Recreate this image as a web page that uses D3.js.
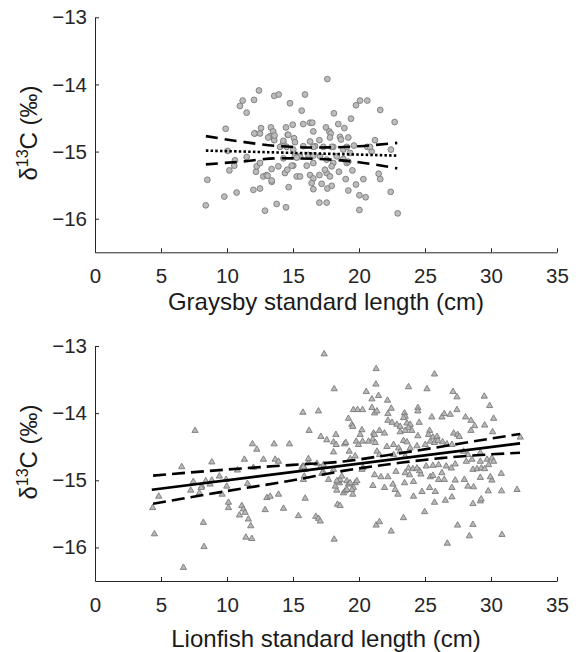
<!DOCTYPE html>
<html>
<head>
<meta charset="utf-8">
<script src="https://cdn.jsdelivr.net/npm/d3@7/dist/d3.min.js"></script>
<style>
  body { margin: 0; background: #fff; }
  svg { display: block; font-family: "Liberation Sans", Arial, Helvetica, sans-serif; }
  .tick text { font-size: 20.5px; fill: #262626; }
  .axis path, .axis line { stroke: #262626; stroke-width: 1; }
</style>
</head>
<body>
<div id="chart"></div>
<script>
// ---- data ----
var xTicks = [0, 5, 10, 15, 20, 25, 30, 35];
var yTicks = [-13, -14, -15, -16];

// Graysby: standard length (cm) and d13C
var graysbyLength = [8.39,8.51,9.90,9.80,10.05,10.18,10.55,10.61,10.73,10.98,11.19,11.49,11.49,12.05,12.00,12.12,12.42,12.50,12.50,12.58,
  12.20,12.25,12.50,12.75,12.88,13.00,13.26,13.33,13.39,13.50,13.56,13.58,13.58,13.76,13.92,13.89,14.27,14.47,14.47,14.60,
  14.67,14.77,14.98,14.39,14.57,15.08,15.15,15.02,15.28,15.91,15.66,15.78,16.29,16.46,17.60,18.10,18.43,18.89,19.39,19.77,
  20.08,20.63,21.61,22.70,17.50,17.75,17.86,17.80,16.54,17.00,18.56,18.64,19.19,21.21,20.63,19.62,22.42,20.96,15.53,16.16,
  16.67,17.30,18.05,18.81,19.32,15.53,16.29,16.54,17.00,17.55,17.80,14.90,14.27,15.02,15.15,17.05,17.55,18.05,18.31,19.07,
  16.41,16.54,17.17,17.60,17.93,17.00,17.55,18.48,18.99,19.19,19.50,19.77,20.03,20.03,20.33,20.50,21.49,21.61,22.40,22.93,
  13.38,13.08,13.38,12.07,13.12,13.60,14.64,14.27,16.29,14.02,14.52,15.78,16.54,17.93,19.07,20.83,15.28,16.54,18.81,19.19,
  16.04,16.54,17.42,17.93];
var graysbyD13C = [-15.80,-15.42,-14.66,-15.67,-14.99,-15.28,-15.21,-15.13,-15.61,-14.32,-14.24,-14.42,-15.08,-14.23,-15.57,-14.73,-14.09,-14.73,-15.55,-14.65,
  -15.30,-15.22,-15.17,-15.37,-15.88,-15.35,-14.77,-14.64,-15.45,-14.70,-14.77,-14.17,-14.83,-15.78,-14.15,-15.22,-14.88,-15.83,-14.64,-14.75,
  -15.53,-14.28,-14.60,-15.32,-15.27,-14.80,-14.86,-15.21,-15.37,-14.15,-14.39,-14.59,-14.57,-14.57,-13.92,-14.43,-14.59,-14.65,-14.51,-14.31,
  -14.24,-14.24,-14.38,-14.56,-14.64,-14.70,-14.73,-14.79,-14.70,-14.83,-14.78,-14.82,-14.79,-14.83,-14.93,-14.91,-14.97,-15.00,-15.07,-15.05,
  -14.92,-14.93,-14.93,-14.97,-15.02,-15.37,-15.35,-15.40,-15.35,-15.32,-15.37,-15.21,-15.10,-14.97,-15.07,-15.07,-15.12,-15.17,-15.07,-15.17,
  -15.47,-15.56,-15.48,-15.55,-15.51,-15.76,-15.76,-15.30,-15.41,-15.58,-15.28,-15.49,-15.65,-15.87,-15.41,-15.68,-15.33,-15.41,-15.60,-15.92,
  -15.26,-15.36,-15.43,-14.73,-14.79,-14.76,-14.75,-14.84,-14.85,-14.93,-14.93,-14.92,-14.93,-14.93,-14.93,-14.93,-15.09,-15.06,-15.11,-15.15,
  -15.21,-15.17,-15.27,-15.22];

// Graysby fit (dotted) and 95% band (dashed)
var graysbyFitX = [8.4, 22.9];
var graysbyFitY = [-14.985, -15.06];
var graysbyBandX = [8.4, 11, 14, 17, 20, 22.9];
var graysbyUpper = [-14.77, -14.85, -14.92, -14.94, -14.92, -14.87];
var graysbyLower = [-15.19, -15.15, -15.10, -15.11, -15.16, -15.25];

// Lionfish: standard length (cm) and d13C
var lionfishLength = [4.37,4.50,4.83,6.57,6.70,7.25,7.45,7.58,7.91,8.09,8.21,8.26,8.39,8.72,8.85,9.42,9.63,9.93,9.98,10.11,
  10.11,10.79,10.94,11.12,11.24,11.37,11.32,11.55,11.62,11.80,11.43,11.88,11.93,12.00,12.26,12.76,12.89,13.02,13.27,13.57,
  13.65,13.90,13.90,14.28,14.73,15.41,8.04,8.85,15.92,16.73,16.93,17.06,18.12,18.37,18.32,18.52,18.45,17.69,17.19,15.79,
  15.85,15.67,16.17,16.81,17.31,18.82,17.36,18.12,15.75,16.93,16.22,17.11,17.56,18.25,18.07,18.27,18.07,18.90,16.17,21.30,
  25.72,21.28,23.75,25.15,20.55,20.98,21.48,22.16,27.12,27.42,29.49,29.90,24.46,24.46,27.42,19.58,19.89,20.27,20.98,21.18,
  21.36,22.44,22.19,23.45,23.50,23.37,19.20,25.52,26.28,26.46,26.91,28.07,28.48,30.20,19.46,19.53,22.19,22.50,22.87,23.12,
  23.63,23.88,23.75,24.56,25.35,28.76,29.52,30.12,28.48,20.22,20.09,21.10,21.18,21.55,21.93,23.12,23.50,24.00,24.46,25.27,
  25.60,25.91,27.17,27.47,27.60,19.00,19.79,20.27,19.96,20.72,21.05,21.23,22.11,22.62,23.00,23.37,23.63,23.88,24.39,25.02,
  25.40,25.72,25.98,26.33,26.66,27.04,19.26,19.71,19.33,21.36,21.55,22.62,23.12,23.50,27.92,28.25,28.56,29.19,29.70,30.07,
  32.22,18.57,19.08,18.95,19.71,19.84,19.58,19.53,21.18,21.66,22.19,21.05,21.93,22.57,22.74,22.95,22.80,23.50,23.83,23.45,
  24.13,24.13,24.77,24.69,24.59,25.40,25.60,26.03,26.46,26.28,25.35,25.78,24.97,25.72,26.54,27.04,27.29,27.98,27.04,28.25,
  28.68,29.19,30.07,29.95,29.79,30.80,30.78,31.97,28.63,29.19,29.26,27.47,28.63,28.36,30.83,26.69,21.30,21.55,22.44,23.37,
  20.30,20.22,23.75,24.08,24.39,25.09,25.60,26.03,26.61,26.99,27.29,28.13,28.63,28.94,29.27,29.52,29.19,29.82,30.20,15.75,
  15.92,17.31,17.06,17.23,18.07,18.32,18.20,18.70,19.20,19.33,19.46,19.08,15.79,18.57];
var lionfishD13C = [-15.41,-15.80,-15.24,-14.80,-16.30,-15.15,-15.02,-14.26,-15.19,-15.09,-15.63,-15.99,-15.01,-15.06,-14.73,-14.94,-15.21,-14.99,-15.09,-15.33,
  -15.41,-14.85,-15.52,-15.38,-15.43,-15.48,-14.69,-15.05,-15.58,-15.68,-15.85,-15.87,-14.46,-14.81,-14.54,-14.69,-15.44,-15.26,-15.24,-14.46,
  -14.69,-14.72,-15.21,-15.42,-14.46,-15.53,-15.11,-15.00,-15.27,-15.54,-15.57,-15.61,-15.88,-15.36,-15.15,-15.04,-15.01,-14.99,-14.90,-14.99,
  -14.94,-14.81,-14.74,-14.75,-14.88,-15.19,-13.12,-13.64,-13.99,-13.97,-14.26,-14.35,-14.40,-14.32,-14.43,-14.47,-14.58,-14.46,-14.68,-13.34,
  -13.42,-13.57,-13.61,-13.64,-13.68,-13.79,-13.74,-13.81,-13.68,-13.76,-13.75,-13.89,-13.92,-13.97,-13.95,-13.95,-13.95,-13.95,-13.92,-14.00,
  -13.97,-13.93,-14.01,-14.00,-14.05,-14.07,-14.08,-14.06,-14.06,-14.01,-14.02,-14.06,-14.11,-14.08,-14.17,-14.20,-14.11,-14.14,-14.17,-14.20,
  -14.15,-14.17,-14.22,-14.14,-14.26,-14.19,-14.18,-14.28,-14.26,-14.25,-14.32,-14.30,-14.32,-14.26,-14.30,-14.28,-14.26,-14.26,-14.34,-14.32,
  -14.36,-14.35,-14.30,-14.32,-14.35,-14.44,-14.42,-14.42,-14.47,-14.42,-14.39,-14.44,-14.50,-14.47,-14.52,-14.41,-14.43,-14.52,-14.49,-14.47,
  -14.42,-14.44,-14.41,-14.43,-14.46,-14.47,-14.57,-14.64,-14.68,-14.57,-14.62,-14.62,-14.57,-14.64,-14.57,-14.62,-14.69,-14.59,-14.69,-14.67,
  -14.36,-14.99,-15.01,-15.16,-15.04,-15.01,-15.11,-15.21,-14.92,-14.95,-14.95,-15.08,-15.11,-15.06,-15.14,-15.21,-14.87,-14.89,-14.92,-15.04,
  -15.02,-15.24,-15.17,-14.91,-14.86,-14.95,-14.93,-14.99,-14.99,-14.89,-15.11,-15.17,-15.47,-15.33,-15.30,-15.25,-15.00,-14.99,-15.11,-15.09,
  -15.10,-14.96,-15.00,-14.95,-15.16,-15.16,-14.90,-15.14,-15.35,-15.31,-15.28,-15.67,-15.66,-15.83,-15.81,-15.94,-15.67,-15.62,-15.76,-15.56,
  -14.81,-14.84,-14.82,-14.83,-14.82,-14.79,-14.78,-14.77,-14.79,-14.82,-14.76,-14.72,-14.84,-14.83,-14.82,-14.83,-14.72,-14.77,-14.72,-14.79,
  -14.84,-14.77,-14.81,-14.89,-14.84,-15.01,-15.09,-14.94,-15.06,-15.04,-15.14,-15.14,-14.80,-15.38];

// Lionfish fit (solid) and 95% band (dashed)
var lionfishFitX = [4.3, 32.2];
var lionfishFitY = [-15.14, -14.45];
var lionfishUpperX = [4.4, 10, 15, 18.8, 22, 26.2, 28.7, 32.2];
var lionfishUpper = [-14.93, -14.84, -14.77, -14.72, -14.63, -14.50, -14.42, -14.31];
var lionfishLowerX = [4.4, 10, 15, 18.8, 23.1, 26.2, 32.2];
var lionfishLower = [-15.35, -15.16, -15.00, -14.86, -14.74, -14.67, -14.59];

// ---- drawing ----
var W = 578, H = 652;
var svg = d3.select("#chart").append("svg").attr("width", W).attr("height", H);

var x = d3.scaleLinear().domain([0, 35]).range([95, 557]);

var panels = [
  { top: 17.3, bottom: 252.3, xTitle: "Graysby standard length (cm)", titleY: 310, yLabelY: 133,
    lx: graysbyLength, ly: graysbyD13C, marker: "circle",
    lines: [
      { xs: graysbyBandX, ys: graysbyUpper, dash: "12,7" },
      { xs: graysbyBandX, ys: graysbyLower, dash: "12,7" },
      { xs: graysbyFitX, ys: graysbyFitY, dash: "2.5,2.2" }
    ] },
  { top: 346, bottom: 581, xTitle: "Lionfish standard length (cm)", titleY: 647, yLabelY: 452,
    lx: lionfishLength, ly: lionfishD13C, marker: "triangle",
    lines: [
      { xs: lionfishUpperX, ys: lionfishUpper, dash: "13,6" },
      { xs: lionfishLowerX, ys: lionfishLower, dash: "13,6" },
      { xs: lionfishFitX, ys: lionfishFitY, dash: null }
    ] }
];

panels.forEach(function (p) {
  var y = d3.scaleLinear().domain([-16.5, -13]).range([p.bottom, p.top]);
  var g = svg.append("g");

  // points
  var pts = d3.range(p.lx.length);
  if (p.marker === "circle") {
    g.selectAll("circle.pt").data(pts).enter().append("circle")
      .attr("class", "pt")
      .attr("cx", function (i) { return x(p.lx[i]); })
      .attr("cy", function (i) { return y(p.ly[i]); })
      .attr("r", 2.9)
      .attr("fill", "#bcbcbc")
      .attr("stroke", "#7a7a7a")
      .attr("stroke-width", 0.9);
  } else {
    var tri = d3.symbol().type(d3.symbolTriangle).size(17);
    g.selectAll("path.pt").data(pts).enter().append("path")
      .attr("class", "pt")
      .attr("d", tri)
      .attr("transform", function (i) { return "translate(" + x(p.lx[i]) + "," + y(p.ly[i]) + ")"; })
      .attr("fill", "#b8b8b8")
      .attr("stroke", "#7a7a7a")
      .attr("stroke-width", 0.9);
  }

  // regression and confidence lines
  var line = d3.line().x(function (d) { return x(d[0]); }).y(function (d) { return y(d[1]); })
    .curve(d3.curveMonotoneX);
  p.lines.forEach(function (l) {
    g.append("path")
      .attr("d", line(d3.zip(l.xs, l.ys)))
      .attr("fill", "none")
      .attr("stroke", "#000")
      .attr("stroke-width", 2.6)
      .attr("stroke-dasharray", l.dash);
  });

  // axes
  g.append("g").attr("class", "axis")
    .attr("transform", "translate(0," + p.bottom + ")")
    .call(d3.axisBottom(x).tickValues(xTicks).tickSize(-4).tickSizeOuter(0).tickPadding(16))
    .call(function (a) { a.selectAll("text").attr("font-family", null).attr("font-size", null); });
  g.append("g").attr("class", "axis")
    .attr("transform", "translate(95,0)")
    .call(d3.axisLeft(y).tickValues(yTicks).tickSize(-4).tickSizeOuter(0).tickPadding(8)
      .tickFormat(function (d) { return String(d).replace("-", "\u2212"); }))
    .call(function (a) { a.selectAll("text").attr("font-family", null).attr("font-size", null); });

  // titles
  g.append("text")
    .attr("x", (x.range()[0] + x.range()[1]) / 2)
    .attr("y", p.titleY)
    .attr("text-anchor", "middle")
    .attr("font-size", 24)
    .attr("fill", "#1a1a1a")
    .text(p.xTitle);

  var yl = g.append("text")
    .attr("transform", "translate(37," + p.yLabelY + ") rotate(-90)")
    .attr("text-anchor", "middle")
    .attr("font-size", 24)
    .attr("fill", "#1a1a1a");
  yl.append("tspan").text("\u03b4");
  yl.append("tspan").attr("font-size", 16).attr("dy", -9).text("13");
  yl.append("tspan").attr("dy", 9).text("C (\u2030)");
});
</script>
</body>
</html>
